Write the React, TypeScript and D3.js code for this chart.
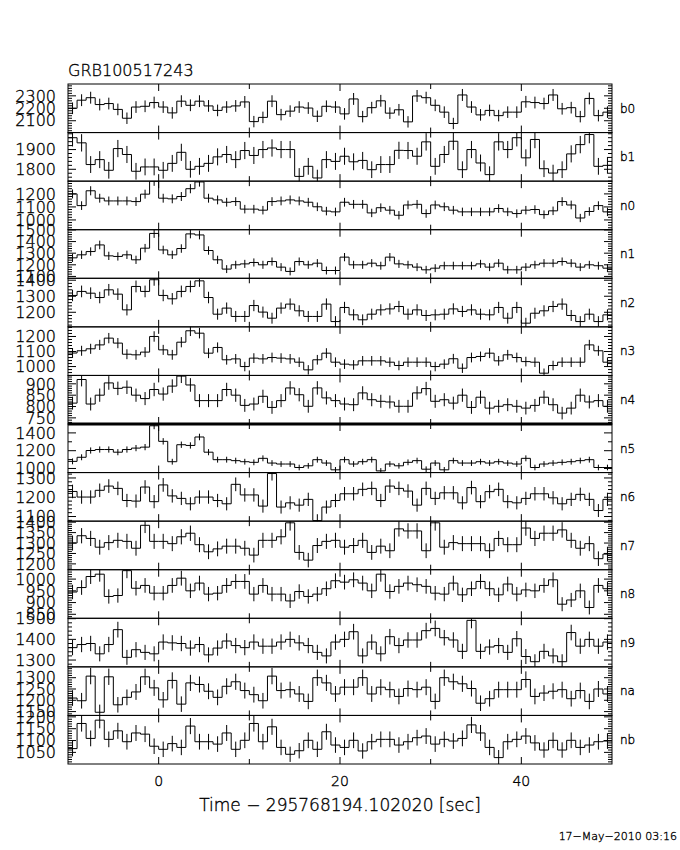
import React from "react";
import * as d3 from "d3";

const TITLE = "GRB100517243";
const X_TITLE = "Time \u2212 295768194.102020 [sec]";
const FOOTER = "17\u2212May\u22122010 03:16";

const detectors = ["b0", "b1", "n0", "n1", "n2", "n3", "n4", "n5", "n6", "n7", "n8", "n9", "na", "nb"];

const xDomain = [-10, 50];
const binStart = -10;
const binWidth = 1;
const xTickValues = [0, 10, 20, 30, 40];
const xTickLabels = [0, 20, 40];

const b0 = [2200, 2265, 2285, 2230, 2238, 2191, 2120, 2210, 2216, 2246, 2210, 2163, 2257, 2224, 2257, 2219, 2183, 2210, 2219, 2251, 2093, 2127, 2257, 2149, 2177, 2210, 2202, 2136, 2216, 2210, 2155, 2275, 2133, 2205, 2260, 2161, 2188, 2091, 2299, 2285, 2224, 2169, 2078, 2307, 2210, 2147, 2183, 2141, 2169, 2169, 2252, 2246, 2238, 2307, 2196, 2205, 2133, 2279, 2141, 2169];
const b1 = [1960, 1934, 1824, 1849, 1795, 1905, 1875, 1790, 1812, 1812, 1795, 1830, 1886, 1800, 1815, 1830, 1863, 1875, 1849, 1895, 1870, 1900, 1908, 1900, 1900, 1764, 1815, 1756, 1849, 1840, 1866, 1838, 1845, 1798, 1824, 1824, 1896, 1895, 1866, 1939, 1815, 1875, 1942, 1798, 1900, 1832, 1773, 1939, 1900, 1960, 1858, 1951, 1803, 1781, 1798, 1878, 1925, 1976, 1815, 1820];
const n0 = [1200, 1110, 1224, 1167, 1146, 1146, 1146, 1141, 1198, 1298, 1167, 1162, 1180, 1240, 1292, 1167, 1154, 1136, 1141, 1083, 1083, 1075, 1141, 1146, 1154, 1146, 1136, 1101, 1068, 1062, 1136, 1120, 1120, 1054, 1094, 1075, 1036, 1115, 1120, 1049, 1115, 1101, 1075, 1062, 1062, 1062, 1062, 1088, 1062, 1049, 1075, 1080, 1041, 1070, 1141, 1115, 1015, 1065, 1110, 1062];
const n1 = [1260, 1286, 1314, 1371, 1277, 1272, 1286, 1243, 1343, 1470, 1328, 1286, 1340, 1466, 1457, 1323, 1243, 1163, 1200, 1208, 1220, 1200, 1228, 1180, 1143, 1228, 1200, 1214, 1151, 1151, 1266, 1200, 1200, 1214, 1192, 1266, 1208, 1200, 1180, 1157, 1171, 1192, 1192, 1192, 1192, 1208, 1180, 1214, 1157, 1157, 1180, 1200, 1214, 1214, 1228, 1214, 1180, 1200, 1192, 1171];
const n2 = [1305, 1330, 1319, 1292, 1340, 1313, 1215, 1361, 1330, 1403, 1305, 1284, 1330, 1361, 1396, 1292, 1188, 1226, 1174, 1174, 1242, 1201, 1163, 1226, 1251, 1209, 1174, 1174, 1251, 1142, 1230, 1184, 1153, 1188, 1215, 1221, 1236, 1188, 1215, 1180, 1184, 1188, 1221, 1205, 1215, 1188, 1184, 1230, 1163, 1230, 1132, 1194, 1209, 1236, 1251, 1180, 1142, 1188, 1142, 1184];
const n3 = [1090, 1105, 1118, 1144, 1189, 1156, 1082, 1078, 1096, 1200, 1111, 1078, 1162, 1238, 1222, 1089, 1127, 1045, 1051, 1000, 1056, 1051, 1060, 1056, 1051, 1029, 978, 1045, 1089, 1029, 1016, 1011, 1038, 1038, 1038, 1029, 1007, 1029, 1029, 1029, 1000, 1016, 1052, 989, 1060, 1067, 1089, 1038, 1078, 1060, 1033, 1029, 956, 1007, 1029, 1029, 1029, 1144, 1105, 1029];
const n4 = [815, 919, 811, 850, 904, 880, 885, 850, 835, 875, 855, 890, 934, 895, 826, 826, 826, 875, 850, 805, 811, 845, 796, 826, 882, 852, 801, 882, 838, 826, 811, 808, 860, 830, 823, 820, 801, 801, 860, 879, 823, 830, 815, 850, 796, 841, 793, 801, 808, 801, 793, 805, 841, 808, 771, 793, 850, 820, 826, 801];
const n5 = [1080, 1126, 1202, 1213, 1213, 1183, 1213, 1229, 1240, 1480, 1305, 1076, 1267, 1259, 1354, 1183, 1099, 1099, 1088, 1076, 1069, 1114, 1061, 1050, 1050, 1011, 1030, 1099, 1061, 985, 1099, 1050, 1076, 1099, 973, 1050, 1030, 1069, 1088, 992, 1061, 985, 1088, 1061, 1061, 1076, 1061, 1076, 1061, 1050, 1114, 1011, 1050, 1061, 1069, 1076, 1088, 1099, 1011, 1011];
const n6 = [1230, 1201, 1201, 1236, 1258, 1246, 1183, 1180, 1253, 1177, 1264, 1207, 1194, 1166, 1201, 1201, 1183, 1166, 1267, 1212, 1212, 1154, 1323, 1149, 1171, 1159, 1189, 1079, 1149, 1183, 1218, 1218, 1241, 1246, 1183, 1258, 1246, 1232, 1159, 1246, 1194, 1223, 1223, 1171, 1250, 1177, 1229, 1241, 1177, 1171, 1194, 1218, 1218, 1197, 1166, 1189, 1215, 1189, 1131, 1189];
const n7 = [1300, 1335, 1322, 1280, 1302, 1313, 1308, 1275, 1385, 1308, 1308, 1297, 1330, 1347, 1292, 1258, 1272, 1285, 1285, 1275, 1242, 1313, 1313, 1330, 1397, 1255, 1218, 1288, 1308, 1313, 1280, 1288, 1313, 1255, 1285, 1263, 1368, 1358, 1358, 1263, 1397, 1280, 1302, 1297, 1297, 1297, 1263, 1322, 1292, 1292, 1372, 1322, 1347, 1347, 1363, 1313, 1275, 1297, 1225, 1247];
const n8 = [945, 964, 1011, 1021, 926, 930, 1036, 961, 973, 940, 940, 973, 1004, 950, 983, 936, 940, 973, 990, 990, 936, 973, 936, 936, 907, 947, 926, 936, 959, 993, 987, 997, 983, 950, 1021, 947, 969, 983, 976, 969, 940, 936, 983, 933, 959, 990, 959, 933, 979, 936, 954, 950, 973, 997, 893, 911, 950, 879, 973, 959];
const n9 = [1360, 1375, 1380, 1330, 1375, 1447, 1313, 1350, 1337, 1330, 1387, 1383, 1380, 1358, 1375, 1325, 1358, 1392, 1370, 1360, 1387, 1367, 1367, 1387, 1400, 1383, 1370, 1337, 1320, 1387, 1400, 1437, 1320, 1387, 1330, 1413, 1370, 1397, 1397, 1442, 1453, 1408, 1397, 1342, 1492, 1342, 1363, 1370, 1337, 1403, 1317, 1292, 1342, 1320, 1292, 1433, 1367, 1400, 1367, 1387];
const na = [1210, 1198, 1307, 1147, 1304, 1180, 1213, 1237, 1304, 1255, 1202, 1288, 1183, 1277, 1270, 1240, 1213, 1262, 1282, 1243, 1225, 1198, 1307, 1243, 1247, 1228, 1195, 1300, 1277, 1228, 1258, 1258, 1300, 1228, 1258, 1247, 1217, 1252, 1247, 1258, 1195, 1300, 1282, 1273, 1252, 1187, 1207, 1247, 1247, 1247, 1292, 1217, 1232, 1240, 1247, 1207, 1243, 1195, 1250, 1228];
const nb = [1066, 1172, 1109, 1186, 1105, 1141, 1095, 1132, 1127, 1076, 1063, 1087, 1071, 1161, 1095, 1095, 1085, 1132, 1063, 1101, 1172, 1095, 1158, 1071, 1042, 1057, 1101, 1063, 1137, 1081, 1071, 1101, 1056, 1095, 1105, 1105, 1081, 1095, 1112, 1119, 1085, 1105, 1098, 1109, 1166, 1132, 1071, 1028, 1095, 1105, 1119, 1090, 1060, 1101, 1060, 1101, 1071, 1081, 1095, 1098];

const series = [b0, b1, n0, n1, n2, n3, n4, n5, n6, n7, n8, n9, na, nb];

const yDomains = [
  [2005, 2395], [1740, 1986], [925, 1298], [1084, 1502], [1109, 1412], [941, 1264], [723, 937],
  [954, 1500], [1076, 1328], [1172, 1405], [833, 1040], [1267, 1502], [1133, 1348], [1001, 1206],
];
const yMajorStep = [100, 100, 100, 100, 100, 100, 50, 200, 100, 50, 50, 100, 50, 50];
const yMinorStep = [20, 20, 20, 20, 20, 20, 10, 100, 20, 10, 10, 20, 10, 10];

const FONT = "'DejaVu Sans', 'Liberation Sans', sans-serif";

export default function App() {
  const W = 680;
  const H = 850;
  const left = 68;
  const right = 612;
  const top = 84;
  const bottom = 764;
  const nP = detectors.length;
  const ph = (bottom - top) / nP;

  const x = d3.scaleLinear().domain(xDomain).range([left, right]);

  const panels = series.map((vals, k) => {
    const y0 = top + k * ph;
    const y1 = y0 + ph;
    const y = d3.scaleLinear().domain(yDomains[k]).range([y1, y0]);
    const edges = vals.map((_, i) => binStart + i * binWidth);
    const pts: [number, number][] = vals.map((v, i) => [edges[i], v]);
    pts.push([binStart + vals.length * binWidth, vals[vals.length - 1]]);
    const line = d3
      .line<[number, number]>()
      .x((d) => x(Math.min(Math.max(d[0], xDomain[0]), xDomain[1])))
      .y((d) => y(d[1]))
      .curve(d3.curveStepAfter);
    const path = line(pts) || "";
    const bars = vals.map((v, i) => {
      const c = binStart + (i + 0.5) * binWidth;
      const e = Math.sqrt(v);
      return { x: x(c), ya: y(v - e), yb: y(v + e) };
    });
    const [lo, hi] = yDomains[k];
    const minor = yMinorStep[k];
    const major = yMajorStep[k];
    const ticks = d3.range(Math.ceil(lo / minor) * minor, hi + 0.001, minor);
    return { k, y0, y1, y, path, bars, ticks, major };
  });

  const textProps = { fill: "#000", stroke: "#000", strokeWidth: 0.35, fontWeight: 200 } as const;

  return (
    <svg
      width={W}
      height={H}
      viewBox={`0 0 ${W} ${H}`}
      style={{ position: "absolute", left: 0, top: 0, background: "#fff" }}
      fontFamily={FONT}
    >
      <rect x={0} y={0} width={W} height={H} fill="#fff" />
      <defs>
        {panels.map((p) => (
          <clipPath id={`clip${p.k}`} key={p.k}>
            <rect x={left} y={p.y0} width={right - left} height={p.y1 - p.y0} />
          </clipPath>
        ))}
      </defs>

      <text x={left} y={76} fontSize={16} {...textProps}>
        {TITLE}
      </text>

      {panels.map((p) => (
        <g key={p.k}>
          <g clipPath={`url(#clip${p.k})`}>
            <path d={p.path} fill="none" stroke="#000" strokeWidth={1} />
            {p.bars.map((b, i) => (
              <line key={i} x1={b.x} x2={b.x} y1={b.ya} y2={b.yb} stroke="#000" strokeWidth={1} />
            ))}
          </g>
          <rect
            x={left}
            y={p.y0}
            width={right - left}
            height={p.y1 - p.y0}
            fill="none"
            stroke="#000"
            strokeWidth={1}
          />
          {p.ticks.map((t) => {
            const isMajor = Math.abs(t / p.major - Math.round(t / p.major)) < 1e-6;
            const len = isMajor ? 8 : 4;
            const yy = p.y(t);
            return (
              <g key={t}>
                <line x1={left} x2={left + len} y1={yy} y2={yy} stroke="#000" strokeWidth={1} />
                <line x1={right} x2={right - len} y1={yy} y2={yy} stroke="#000" strokeWidth={1} />
                {isMajor && (
                  <text x={56} y={yy} dy="0.36em" textAnchor="end" fontSize={16} {...textProps}>
                    {t}
                  </text>
                )}
              </g>
            );
          })}
          {xTickValues.map((t) => {
            const len = t % 20 === 0 ? 7 : 5;
            const xx = x(t);
            return (
              <g key={`xt${t}`}>
                <line x1={xx} x2={xx} y1={p.y0} y2={p.y0 + len} stroke="#000" strokeWidth={1} />
                <line x1={xx} x2={xx} y1={p.y1} y2={p.y1 - len} stroke="#000" strokeWidth={1} />
              </g>
            );
          })}
          <text x={620} y={(p.y0 + p.y1) / 2} dy="0.36em" fontSize={12} {...textProps}>
            {detectors[p.k]}
          </text>
        </g>
      ))}

      <line x1={left} x2={right} y1={top + 7 * ph} y2={top + 7 * ph} stroke="#000" strokeWidth={3} />

      {xTickLabels.map((t) => (
        <text key={t} x={x(t)} y={786} textAnchor="middle" fontSize={14} {...textProps}>
          {t}
        </text>
      ))}
      <text x={(left + right) / 2} y={811} textAnchor="middle" fontSize={17} {...textProps}>
        {X_TITLE}
      </text>
      <text x={677} y={840} textAnchor="end" fontSize={11} {...textProps}>
        {FOOTER}
      </text>
    </svg>
  );
}
